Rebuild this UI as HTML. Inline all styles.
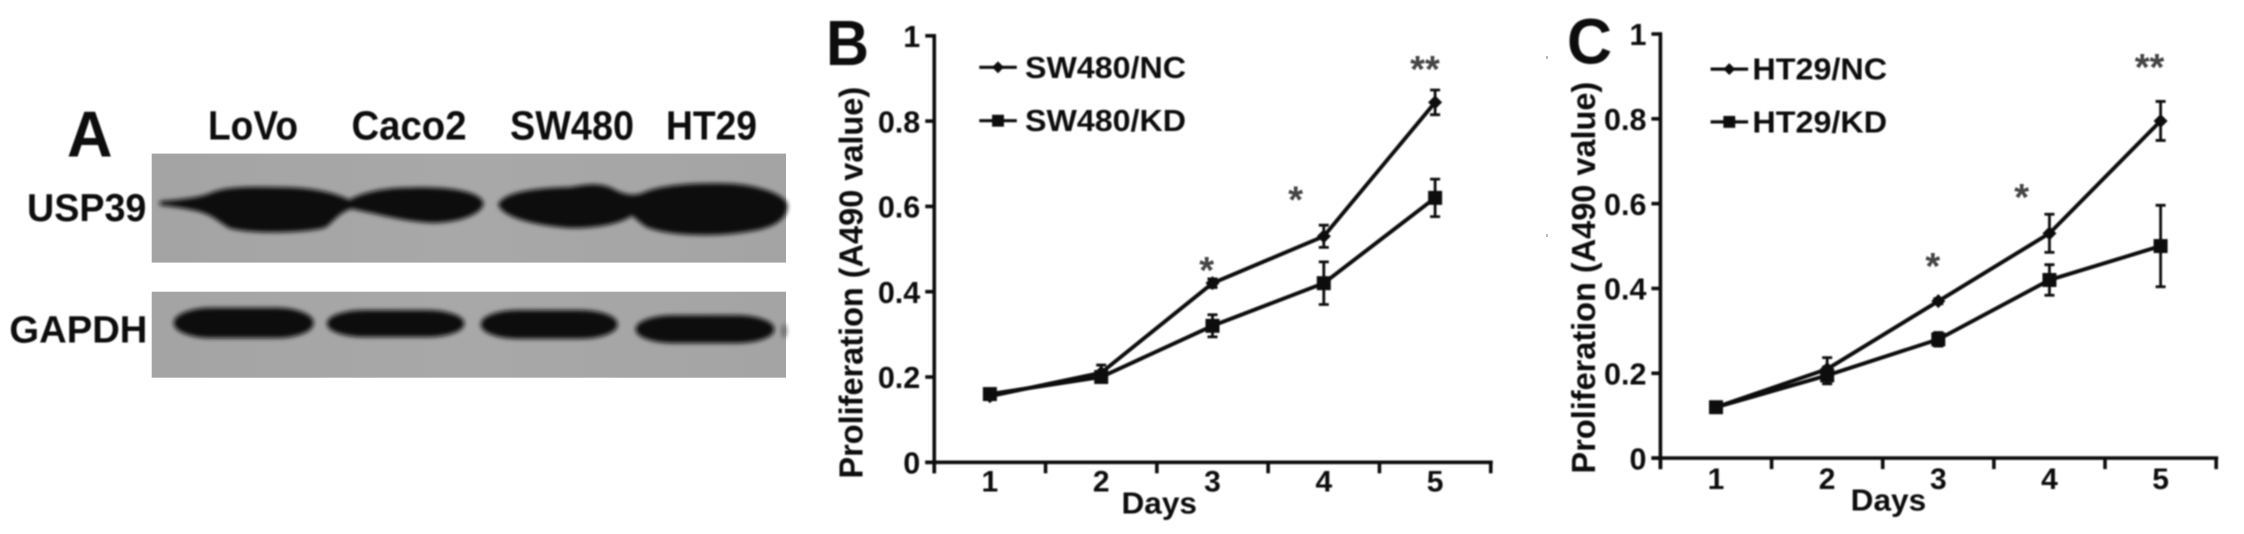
<!DOCTYPE html>
<html lang="en">
<head>
<meta charset="utf-8">
<title>USP39 western blot and proliferation curves</title>
<style>
html,body{margin:0;padding:0;background:#fff;width:2244px;height:534px;overflow:hidden}
svg{display:block}
text{font-family:"Liberation Sans",Arial,sans-serif;font-weight:bold;fill:#111}
</style>
</head>
<body>
<svg id="fig" xmlns="http://www.w3.org/2000/svg" width="2244" height="534" viewBox="0 0 2244 534">
<defs>
<filter id="soft" filterUnits="userSpaceOnUse" x="0" y="0" width="2244" height="534"><feGaussianBlur stdDeviation="0.85"/></filter>
<filter id="bandblur" filterUnits="userSpaceOnUse" x="0" y="0" width="2244" height="534"><feGaussianBlur stdDeviation="2.3"/></filter>
<linearGradient id="blot-bg" x1="0" y1="0" x2="1" y2="0"><stop offset="0" stop-color="#a4a4a4"/><stop offset="0.5" stop-color="#a8a8a8"/><stop offset="1" stop-color="#a4a4a4"/></linearGradient>
</defs>

<g id="panel-a">
  <g filter="url(#soft)">
    <text x="67" y="156.7" font-size="65" textLength="45.5" lengthAdjust="spacingAndGlyphs">A</text>
    <text x="208" y="139.6" font-size="41" textLength="90" lengthAdjust="spacingAndGlyphs">LoVo</text>
    <text x="351.5" y="139.6" font-size="41" textLength="115" lengthAdjust="spacingAndGlyphs">Caco2</text>
    <text x="510" y="139.6" font-size="41" textLength="124" lengthAdjust="spacingAndGlyphs">SW480</text>
    <text x="666" y="139.6" font-size="41" textLength="91" lengthAdjust="spacingAndGlyphs">HT29</text>
    <text x="27" y="221" font-size="39" textLength="119.4" lengthAdjust="spacingAndGlyphs">USP39</text>
    <text x="9.4" y="342.3" font-size="38" textLength="138" lengthAdjust="spacingAndGlyphs">GAPDH</text>
  </g>
  <rect x="151.7" y="153.6" width="634.3" height="109" fill="url(#blot-bg)"/>
  <rect x="151.7" y="291.7" width="634.3" height="86" fill="url(#blot-bg)"/>
  <g filter="url(#bandblur)">
    <g transform="scale(0.523,0.3406)" fill="#0f0f0f" stroke="#0f0f0f" stroke-width="5">
      <path d="M308 593 C350 588 385 582 405 568 C430 552 470 550 520 552 C580 552 630 560 668 590 C690 570 730 553 790 553 C860 550 915 565 922 595 C922 625 880 650 830 652 C770 648 720 625 672 610 C650 620 640 640 622 665 C590 682 480 685 440 668 C420 650 410 632 385 620 C360 610 335 605 308 600 Z"/>
      <path d="M955 600 C965 570 1010 555 1090 552 C1120 545 1150 535 1175 560 C1195 575 1210 578 1228 570 C1260 545 1330 538 1400 542 C1450 548 1495 570 1503 600 C1505 640 1480 665 1440 675 C1370 695 1280 690 1238 665 C1222 650 1215 635 1208 630 C1190 650 1150 668 1090 667 C1030 660 965 640 955 600 Z"/>
      <rect x="335" y="906" width="262" height="84" rx="70" ry="41"/>
      <rect x="628" y="913" width="257" height="74" rx="70" ry="36"/>
      <rect x="922" y="913" width="256" height="79" rx="70" ry="38"/>
      <rect x="1218" y="928" width="260" height="77" rx="70" ry="38"/>
    </g>
    <ellipse cx="784" cy="331" rx="2.5" ry="7" fill="#666"/>
  </g>
</g>

<g id="panel-b" filter="url(#soft)"></g>
<g id="panel-c" filter="url(#soft)"></g>
<rect x="1546" y="56" width="2" height="3" fill="#bbb"/>
<rect x="1546" y="234" width="2" height="3" fill="#bbb"/>
</svg>

<script>
const days = [1, 2, 3, 4, 5];
const xTickLabels = ['1', '2', '3', '4', '5'];
const yTickValues = [0, 0.2, 0.4, 0.6, 0.8, 1];
const yTickLabels = ['0', '0.2', '0.4', '0.6', '0.8', '1'];

const sw480Names = ['SW480/NC', 'SW480/KD'];
const sw480Nc = [0.155, 0.21, 0.42, 0.53, 0.844];
const sw480NcErr = [0.006, 0.018, 0.01, 0.026, 0.029];
const sw480Kd = [0.16, 0.2, 0.32, 0.42, 0.62];
const sw480KdErr = [0.012, 0.01, 0.026, 0.05, 0.044];
const sw480SigDays = [2.947, 3.747, 4.909];
const sw480SigValues = [0.453, 0.618, 0.924];
const sw480SigLabels = ['*', '*', '**'];

const ht29Names = ['HT29/NC', 'HT29/KD'];
const ht29Nc = [0.12, 0.21, 0.37, 0.53, 0.795];
const ht29NcErr = [0.01, 0.027, 0.006, 0.045, 0.046];
const ht29Kd = [0.12, 0.195, 0.28, 0.42, 0.5];
const ht29KdErr = [0.012, 0.02, 0.016, 0.036, 0.096];
const ht29SigDays = [2.95, 3.75, 4.9];
const ht29SigValues = [0.455, 0.618, 0.924];
const ht29SigLabels = ['*', '*', '**'];

const NS = 'http://www.w3.org/2000/svg';
function mk(tag, attrs, parent, txt) {
  const el = document.createElementNS(NS, tag);
  for (const k in attrs) el.setAttribute(k, attrs[k]);
  if (txt !== undefined) el.textContent = txt;
  parent.appendChild(el);
  return el;
}
function tag(el, name) {
  
  
  return el;
}

function drawPanel(root, g, names, nc, ncErr, kd, kdErr, sigDays, sigValues, sigLabels) {
  const xScale = d => g.x1 + (d - 1) * g.dx;
  const yScale = v => g.y0 - v * (g.y0 - g.y1);
  const axisLeft = xScale(0.5);
  const axisRight = xScale(5.5);
  const ink = '#111';

  tag(mk('text', {x: g.letterX, y: g.letterY, 'font-size': 64, textLength: g.letterW, lengthAdjust: 'spacingAndGlyphs'}, root, g.letter), 'panel-label-' + g.letter.toLowerCase());

  const axes = tag(mk('g', {stroke: ink, 'stroke-width': 3.6, fill: 'none'}, root), 'axes');
  tag(mk('line', {x1: axisLeft, x2: axisLeft, y1: yScale(1) - 1.8, y2: g.y0 + 11}, axes), 'y-axis-line');
  tag(mk('line', {x1: axisLeft - 9, x2: axisRight + 2, y1: g.y0, y2: g.y0}, axes), 'x-axis-line');
  yTickValues.forEach((v, i) => {
    const t = mk('line', {x1: axisLeft - 9, x2: axisLeft, y1: yScale(v), y2: yScale(v)}, axes);
    tag(t, 'y-tick');
    const lb = mk('text', {x: axisLeft - 14, y: yScale(v) + 11.2, 'font-size': 30.5, 'text-anchor': 'end', stroke: 'none'}, root, yTickLabels[i]);
    tag(lb, 'y-tick-label');
  });
  for (let i = 0; i <= days.length; i++) {
    const t = mk('line', {x1: xScale(i + 0.5), x2: xScale(i + 0.5), y1: g.y0, y2: g.y0 + 11}, axes);
    tag(t, 'x-tick');
  }
  days.forEach((d, i) => {
    const lb = mk('text', {x: xScale(d), y: g.xLabelY, 'font-size': 30, 'text-anchor': 'middle'}, root, xTickLabels[i]);
    tag(lb, 'x-tick-label');
  });
  tag(mk('text', {x: g.daysX, y: g.daysY, 'font-size': 30.5, textLength: 75.5, lengthAdjust: 'spacingAndGlyphs'}, root, 'Days'), 'x-axis-title');
  tag(mk('text', {x: 0, y: 0, 'font-size': 33, 'text-anchor': 'middle', textLength: 391.7, lengthAdjust: 'spacingAndGlyphs', transform: 'translate(' + g.titleX + ',' + g.titleY + ') rotate(-90)'}, root, 'Proliferation (A490 value)'), 'y-axis-title');

  function series(values, errs, kind, label) {
    const s = tag(mk('g', {}, root), 'series-' + label);
    const pts = values.map((v, i) => xScale(days[i]) + ',' + yScale(v)).join(' ');
    tag(mk('polyline', {points: pts, fill: 'none', stroke: ink, 'stroke-width': 3.9}, s), 'series-line');
    values.forEach((v, i) => {
      const x = xScale(days[i]);
      const top = yScale(v + errs[i]);
      const bot = yScale(v - errs[i]);
      const e = tag(mk('path', {d: 'M' + x + ' ' + top + 'V' + bot + 'M' + (x - 5) + ' ' + top + 'H' + (x + 5) + 'M' + (x - 5) + ' ' + bot + 'H' + (x + 5), stroke: ink, 'stroke-width': 2.8, fill: 'none'}, s), 'error-bar');
      e.setAttribute('data-day', days[i]);
      marker(s, kind, x, yScale(v), 1);
    });
  }
  function marker(parent, kind, x, y, k) {
    if (kind === 'square') {
      const h = 7 * k;
      tag(mk('rect', {x: x - h, y: y - h, width: 2 * h, height: 2 * h, fill: ink}, parent), 'square-marker');
    } else {
      const h = 7 * k;
      tag(mk('path', {d: 'M' + x + ' ' + (y - h) + 'L' + (x + h) + ' ' + y + 'L' + x + ' ' + (y + h) + 'L' + (x - h) + ' ' + y + 'Z', fill: ink}, parent), 'diamond-marker');
    }
  }
  series(kd, kdErr, 'square', 'kd');
  series(nc, ncErr, 'diamond', 'nc');

  sigLabels.forEach((s, i) => {
    const lb = mk('text', {x: xScale(sigDays[i]), y: yScale(sigValues[i]) + 14, 'font-size': 38, 'text-anchor': 'middle', style: 'fill:#444'}, root, s);
    tag(lb, 'significance-marker');
  });

  const kinds = ['diamond', 'square'];
  names.forEach((n, i) => {
    const ly = g.legendY[i];
    const item = tag(mk('g', {}, root), 'legend-entry');
    tag(mk('line', {x1: g.legendX, x2: g.legendX + 37.5, y1: ly, y2: ly, stroke: ink, 'stroke-width': 3.2}, item), 'legend-line');
    marker(item, kinds[i], g.legendX + 18.7, ly, 0.85);
    tag(mk('text', {x: g.legendX + g.legendGap, y: ly + 10.5, 'font-size': 30.5, textLength: g.legendW, lengthAdjust: 'spacingAndGlyphs'}, item, n), 'legend-label');
  });
}

drawPanel(document.getElementById('panel-b'), {
  x1: 989.9, dx: 111.3, y0: 462.3, y1: 35.8,
  letter: 'B', letterX: 826, letterY: 65, letterW: 43,
  xLabelY: 491.7, daysX: 1121.5, daysY: 513.3, titleX: 862.5, titleY: 282.7,
  legendX: 979.3, legendGap: 45.7, legendY: [67.3, 120.7], legendW: 161
}, sw480Names, sw480Nc, sw480NcErr, sw480Kd, sw480KdErr, sw480SigDays, sw480SigValues, sw480SigLabels);

drawPanel(document.getElementById('panel-c'), {
  x1: 1716, dx: 111.15, y0: 458.1, y1: 34,
  letter: 'C', letterX: 1567, letterY: 63.5, letterW: 45,
  xLabelY: 488.8, daysX: 1850.7, daysY: 510.5, titleX: 1594.8, titleY: 277.6,
  legendX: 1710.6, legendGap: 41.8, legendY: [69.1, 121.9], legendW: 134.7
}, ht29Names, ht29Nc, ht29NcErr, ht29Kd, ht29KdErr, ht29SigDays, ht29SigValues, ht29SigLabels);
</script>
</body>
</html>
